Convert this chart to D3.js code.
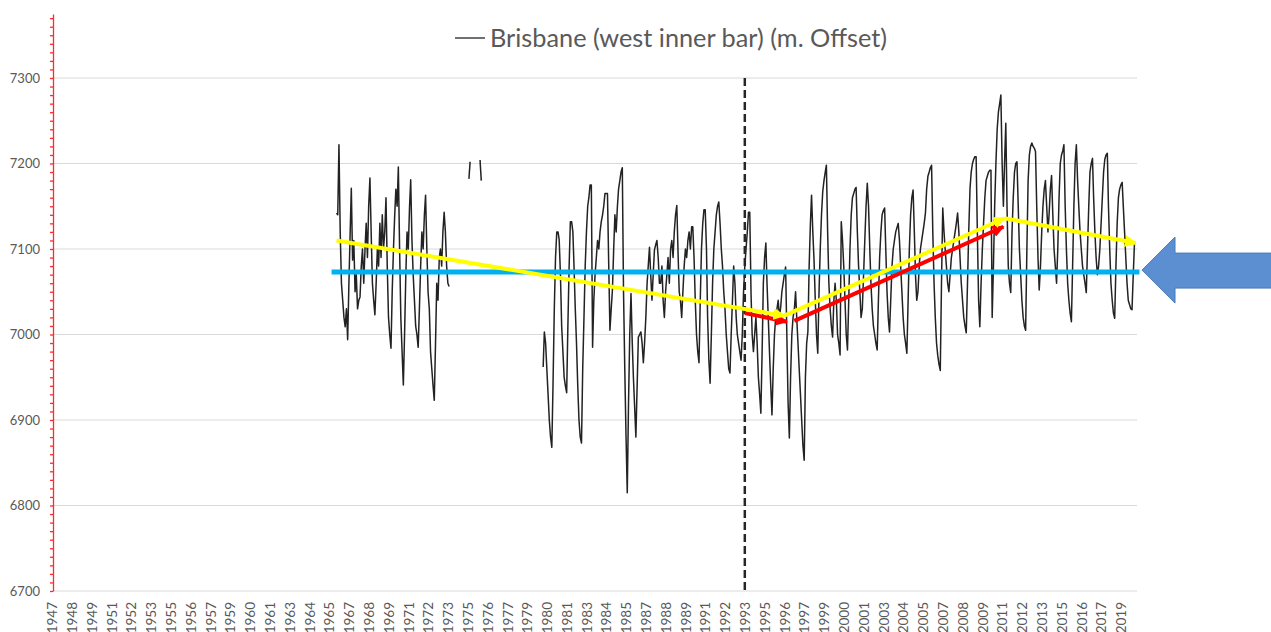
<!DOCTYPE html>
<html>
<head>
<meta charset="utf-8">
<script src="https://cdn.jsdelivr.net/npm/d3@7"></script>
<style>
body { margin: 0; background: #fff; }
text { font-family: Lato, "Open Sans", sans-serif; }
</style>
</head>
<body>
<svg id="chart" width="1271" height="632"></svg>
<script>
// ---- data (monthly sea level offset, mm) ----
var titleText = "Brisbane (west inner bar) (m. Offset)";
var yTicks = [6700, 6800, 6900, 7000, 7100, 7200, 7300];
var xStart = "1947-01", xEnd = "2020-02", xTickEvery = 16; // label every 16 months

var seg66Start = "1966-03";
var seg66 = [
  7142, 7140, 7222, 7120, 7060, 7040, 7020, 7009, 7030, 6994,
  7060, 7120, 7171, 7087, 7110, 7050, 7070, 7030, 7040, 7044, 7080, 7100,
  7060, 7100, 7130, 7090, 7150, 7183, 7120, 7060, 7040, 7023, 7060, 7100,
  7080, 7130, 7090, 7140, 7100, 7120, 7160, 7080, 7020, 7000, 6984, 7050,
  7100, 7140, 7170, 7150, 7196, 7100, 7020, 6980, 6941, 7000, 7070, 7120,
  7100, 7150, 7181, 7110, 7070, 7040, 7010, 7000, 6985, 7030, 7080, 7120,
  7100, 7140, 7163, 7100, 7050, 7030, 6980, 6960, 6940, 6923, 6990, 7060,
  7040, 7090, 7100, 7080, 7120, 7143, 7120, 7080, 7060, 7056
];
var seg75aStart = "1975-02", seg75a = [7182, 7202];
var seg75bStart = "1975-11", seg75b = [7204, 7180];

var seg80Start = "1980-02";
var seg80 = [
  6962, 7003, 6990, 6960, 6930, 6900, 6880, 6868, 6943, 7030, 7090,
  7120, 7120, 7111, 7070, 7010, 6980, 6950, 6940, 6932, 7010, 7080, 7132,
  7132, 7120, 7080, 7030, 6990, 6940, 6900, 6880, 6873, 6960, 7020, 7080,
  7120, 7150, 7160, 7175, 7175, 6985, 7040, 7070, 7090, 7110, 7100, 7120,
  7132, 7140, 7150, 7165, 7165, 7165, 7084, 7005, 7030, 7052, 7100, 7140,
  7120, 7150, 7170, 7180, 7190, 7195, 7050, 6960, 6880, 6815, 6920, 7000,
  7048, 6990, 6950, 6915, 6880, 6940, 6997, 7000, 7003, 6990, 6967, 6990,
  7020, 7060, 7080, 7102, 7070, 7040, 7070, 7099, 7105, 7110, 7090, 7060,
  7060, 7080, 7040, 7020, 7050, 7070, 7090, 7060, 7100, 7110, 7090, 7120,
  7140, 7151, 7100, 7050, 7040, 7020, 7050, 7080, 7100, 7090, 7110, 7120,
  7100, 7126, 7126, 7090, 7040, 7000, 6980, 6967, 7040, 7100, 7130, 7146,
  7146, 7100, 7020, 6970, 6943, 7000, 7060, 7100, 7120, 7140, 7150, 7155,
  7130, 7100, 7080, 7050, 7030, 7000, 6980, 6960, 6955, 7000, 7040, 7080,
  7060, 7020, 7000, 6990, 6980, 6970, 7000, 7050, 7080, 7100, 7120, 7143,
  7143, 7048, 7000, 6980, 7000, 7020, 6990, 6950, 6930, 6908, 6980, 7060,
  7090, 7107, 7060, 7020, 6980, 6940, 6906, 6960, 7000, 7020, 7030, 7040,
  7020, 7032, 7050, 7060, 7070, 7079, 7000, 6920, 6879, 6950, 7000, 7020,
  7029, 7050, 7020, 6990, 6960, 6930, 6900, 6870, 6853, 6950, 6990, 7003,
  7080, 7130, 7163, 7120, 7087, 7040, 7000, 6978, 7050, 7100, 7140, 7167,
  7180, 7190, 7198, 7120, 7060, 7030, 7010, 6997, 7040, 7060, 7040, 7000,
  6990, 6976, 7132, 7110, 7080, 7040, 7000, 6982, 7040, 7100, 7140, 7160,
  7165, 7170, 7172, 7120, 7080, 7050, 7020, 7030, 7070, 7110, 7150, 7177,
  7150, 7100, 7060, 7030, 7010, 7000, 6990, 6982, 7040, 7090, 7120, 7140,
  7145, 7148, 7100, 7050, 7020, 7003, 7040, 7080, 7100, 7110, 7120, 7125,
  7130, 7110, 7080, 7050, 7020, 7000, 6990, 6978, 7040, 7100, 7140, 7160,
  7169, 7120, 7070, 7040, 7050, 7080, 7100, 7110, 7120, 7130, 7142, 7170,
  7185, 7190, 7195, 7198, 7120, 7060, 7020, 6990, 6975, 6965, 6958, 7060,
  7148, 7120, 7100, 7080, 7060, 7050, 7070, 7090, 7100, 7110, 7120, 7130,
  7142, 7120, 7090, 7060, 7040, 7020, 7010, 7002, 7060, 7120, 7170, 7190,
  7200, 7205, 7208, 7208, 7120, 7040, 7009, 7060, 7100, 7130, 7160, 7180,
  7185, 7190, 7192, 7192, 7020, 7080, 7150, 7200, 7240, 7260, 7270, 7280,
  7200, 7150, 7200, 7247, 7150, 7080, 7060, 7049, 7120, 7160, 7190, 7200,
  7202, 7150, 7100, 7070, 7040, 7020, 7010, 7005, 7100, 7180, 7210, 7220,
  7224, 7220, 7218, 7214, 7150, 7090, 7052, 7080, 7120, 7150, 7170, 7180,
  7150, 7120, 7140, 7170, 7186, 7140, 7100, 7080, 7060, 7100, 7160, 7200,
  7210, 7215, 7222, 7150, 7100, 7060, 7040, 7025, 7015, 7080, 7150, 7200,
  7222, 7180, 7150, 7120, 7100, 7080, 7070, 7060, 7049, 7100, 7150, 7190,
  7200, 7206, 7160, 7120, 7090, 7070, 7080, 7100, 7130, 7160, 7190, 7205,
  7210, 7212, 7150, 7100, 7060, 7040, 7025, 7019, 7080, 7130, 7160, 7170,
  7175, 7178, 7150, 7120, 7090, 7060, 7040, 7035, 7030, 7029, 7070, 7107
];

// annotations
var meanLevel = 7073, meanFrom = "1965-11", meanTo = "2020-04";
var breakMonth = "1993-09";
var yellowDates = ["1966-03", "1996-05", "2011-03", "2020-01"];
var yellowVals = [7110, 7022, 7136, 7107];
var redDates = [["1993-09", "1996-07"], ["1997-01", "2011-02"]];
var redVals = [[7025, 7015], [7016, 7126]];

// ---- chart ----
var svg = d3.select("#chart");
var parseM = d3.timeParse("%Y-%m");
var grey = "#595959";

var x = d3.scaleTime()
  .domain([parseM(xStart), parseM(xEnd)])
  .range([52, 1137]);
var y = d3.scaleLinear()
  .domain([6700, 7300])
  .range([591, 78]);

function toPoints(start, vals) {
  var s = parseM(start);
  return vals.map(function(v, i) { return {date: d3.timeMonth.offset(s, i), value: v}; });
}
var segments = [
  toPoints(seg66Start, seg66),
  toPoints(seg75aStart, seg75a),
  toPoints(seg75bStart, seg75b),
  toPoints(seg80Start, seg80)
];

// gridlines
svg.append("g")
  .selectAll("line")
  .data(yTicks)
  .enter().append("line")
  .attr("x1", x.range()[0]).attr("x2", x.range()[1])
  .attr("y1", function(d) { return y(d); })
  .attr("y2", function(d) { return y(d); })
  .attr("stroke", "#d9d9d9")
  .attr("stroke-width", 1);

// y labels
svg.append("g")
  .selectAll("text")
  .data(yTicks)
  .enter().append("text")
  .attr("x", 40)
  .attr("y", function(d) { return y(d); })
  .attr("dy", "0.35em")
  .attr("text-anchor", "end")
  .attr("fill", grey)
  .style("font-size", "13px")
  .text(function(d) { return d3.format("d")(d); });

// x labels (every 16 months)
var xTicks = d3.timeMonth.range(parseM(xStart), parseM("2019-02"), xTickEvery);
var xAxis = svg.append("g")
  .attr("transform", "translate(0," + y(6700) + ")")
  .call(d3.axisBottom(x).tickValues(xTicks).tickFormat(d3.timeFormat("%Y")).tickSize(0).tickPadding(0));
xAxis.select(".domain").remove();
xAxis.selectAll("text")
  .attr("transform", "translate(0,11) rotate(-90)")
  .attr("text-anchor", "end")
  .attr("x", 0).attr("y", 0)
  .attr("dy", "0.35em")
  .attr("fill", grey)
  .style("font-family", "Lato, sans-serif")
  .style("font-size", "13.5px");

// red y axis with minor ticks
var yRed = y.copy().domain([6700, 7375]).range([y(6700), y(7375)]);
var redAxis = svg.append("g")
  .attr("transform", "translate(53,0)")
  .call(d3.axisLeft(yRed).tickValues(d3.range(6700, 7376, 10)).tickSize(3).tickSizeOuter(0).tickFormat(""));
redAxis.selectAll("path, line").attr("stroke", "#ff2a2a").attr("stroke-width", 1.3);

// series
var line = d3.line()
  .x(function(d) { return x(d.date); })
  .y(function(d) { return y(d.value); });
svg.append("g")
  .selectAll("path")
  .data(segments)
  .enter().append("path")
  .attr("d", line)
  .attr("fill", "none")
  .attr("stroke", "#222")
  .attr("stroke-width", 1.5)
  .attr("stroke-linejoin", "round");

// dashed break line
svg.append("line")
  .attr("x1", x(parseM(breakMonth))).attr("x2", x(parseM(breakMonth)))
  .attr("y1", y(7300)).attr("y2", y(6700))
  .attr("stroke", "#262626")
  .attr("stroke-width", 2.5)
  .attr("stroke-dasharray", "8,4");

// mean level line
svg.append("line")
  .attr("x1", x(parseM(meanFrom))).attr("x2", x(parseM(meanTo)))
  .attr("y1", y(meanLevel)).attr("y2", y(meanLevel))
  .attr("stroke", "#00b0f0")
  .attr("stroke-width", 5);

// arrow markers
var defs = svg.append("defs");
[["arrYellow", "#ffff00"], ["arrRed", "#ff0000"]].forEach(function(m) {
  defs.append("marker")
    .attr("id", m[0])
    .attr("viewBox", "0 0 10 10")
    .attr("refX", 9).attr("refY", 5)
    .attr("markerWidth", 3).attr("markerHeight", 3)
    .attr("orient", "auto")
    .append("path")
    .attr("d", "M0,0 L10,5 L0,10 z")
    .attr("fill", m[1]);
});

// red trend arrows
redDates.forEach(function(pair, i) {
  svg.append("line")
    .attr("x1", x(parseM(pair[0]))).attr("y1", y(redVals[i][0]))
    .attr("x2", x(parseM(pair[1]))).attr("y2", y(redVals[i][1]))
    .attr("stroke", "#ff0000")
    .attr("stroke-width", 4)
    .attr("marker-end", "url(#arrRed)");
});

// yellow trend arrows
for (var i = 0; i < yellowDates.length - 1; i++) {
  svg.append("line")
    .attr("x1", x(parseM(yellowDates[i]))).attr("y1", y(yellowVals[i]))
    .attr("x2", x(parseM(yellowDates[i + 1]))).attr("y2", y(yellowVals[i + 1]))
    .attr("stroke", "#ffff00")
    .attr("stroke-width", 4)
    .attr("marker-end", "url(#arrYellow)");
}

// big blue arrow pointing at the mean level
var tipX = x(parseM(xEnd)) + 5, tipY = y(meanLevel) - 2;
svg.append("path")
  .attr("d", "M" + tipX + "," + tipY +
    " L" + (tipX + 33) + "," + (tipY - 33) +
    " L" + (tipX + 33) + "," + (tipY - 17) +
    " L1275," + (tipY - 17) +
    " L1275," + (tipY + 18) +
    " L" + (tipX + 33) + "," + (tipY + 18) +
    " L" + (tipX + 33) + "," + (tipY + 33) + " Z")
  .attr("fill", "#5b8fd1")
  .attr("stroke", "#4a7bb8")
  .attr("stroke-width", 1);

// legend / title
svg.append("line")
  .attr("x1", 455).attr("x2", 485)
  .attr("y1", 38).attr("y2", 38)
  .attr("stroke", "#404040")
  .attr("stroke-width", 1.5);
svg.append("text")
  .attr("x", 490).attr("y", 47)
  .attr("fill", grey)
  .style("font-size", "25.3px")
  .text(titleText);
</script>
</body>
</html>
